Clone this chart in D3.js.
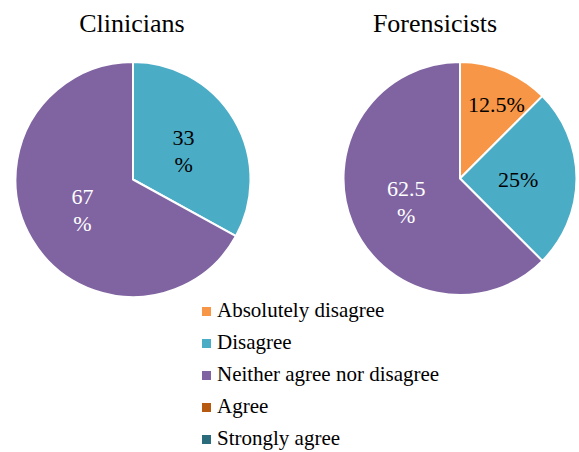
<!DOCTYPE html>
<html>
<head>
<meta charset="utf-8">
<script src="https://cdn.jsdelivr.net/npm/d3@7"></script>
<style>
  html, body { margin: 0; padding: 0; background: #fff; }
  svg { display: block; }
</style>
</head>
<body>
<svg id="chart" width="579" height="452"></svg>
<script>
// Response categories, in the order the slices run clockwise from 12 o'clock
const categories = ["Absolutely disagree", "Disagree", "Neither agree nor disagree", "Agree", "Strongly agree"];
const colors = ["#F79646", "#4BACC6", "#8064A2", "#B65A12", "#2A6C7C"];

// Percentage of respondents per category
const clinicianValues = [0, 33, 67, 0, 0];
const forensicistValues = [12.5, 25, 62.5, 0, 0];

// Which value labels break the "%" onto its own line
const clinicianWrap = [false, true, true, false, false];
const forensicistWrap = [false, false, true, false, false];

const serifFont = "Liberation Serif";

const groups = [
  { title: "Clinicians", values: clinicianValues, wrap: clinicianWrap, cx: 133, cy: 179.5, r: 117.5, titleX: 132 },
  { title: "Forensicists", values: forensicistValues, wrap: forensicistWrap, cx: 460, cy: 178.5, r: 116.5, titleX: 435 }
];

const svg = d3.select("#chart");
const color = d3.scaleOrdinal().domain(categories).range(colors);
const pie = d3.pie().sort(null).value(d => d.value);

groups.forEach(g => {
  const data = categories.map((c, i) => ({ category: c, value: g.values[i], wrap: g.wrap[i] }));
  const arcs = pie(data);
  const arc = d3.arc().innerRadius(0).outerRadius(g.r);

  svg.append("text")
    .attr("x", g.titleX)
    .attr("y", 32)
    .attr("text-anchor", "middle")
    .attr("font-family", serifFont)
    .attr("font-size", 26)
    .attr("fill", "#000")
    .text(g.title);

  const gp = svg.append("g").attr("transform", `translate(${g.cx},${g.cy})`);

  gp.selectAll("path")
    .data(arcs.filter(a => a.data.value > 0))
    .join("path")
    .attr("d", arc)
    .attr("fill", d => color(d.data.category))
    .attr("stroke", "#fff")
    .attr("stroke-width", 2)
    .attr("stroke-linejoin", "round");

  // Value labels: small slices sit further out, the rest near mid-radius
  const labels = gp.selectAll("text.val")
    .data(arcs.filter(a => a.data.value > 0))
    .join("text")
    .attr("class", "val")
    .attr("text-anchor", "middle")
    .attr("font-family", serifFont)
    .attr("font-size", 22)
    .attr("fill", d => d.data.category === "Neither agree nor disagree" ? "#fff" : "#000");

  labels.each(function(d) {
    const t = d3.select(this);
    const num = String(d.data.value);
    if (d.data.wrap) {
      t.append("tspan").attr("x", 0).attr("y", -5).text(num);
      t.append("tspan").attr("x", 0).attr("y", 22).text("%");
    } else {
      t.append("tspan").attr("x", 0).attr("y", 8).text(num + "%");
    }
    const frac = d.data.value / 100;
    const rho = frac < 0.2 ? 0.69 * g.r : 0.5 * g.r;
    let [x, y] = d3.arc().innerRadius(rho).outerRadius(rho).centroid(d);
    // keep single-line labels of right-hand slices clear of the vertical edge
    if (!d.data.wrap && d.startAngle >= 0 && d.endAngle <= Math.PI) {
      const w = this.getBBox().width;
      x = Math.max(x, w / 2 + 8);
    }
    t.attr("transform", `translate(${x},${y})`);
  });
});

// Legend
const legend = svg.append("g").attr("transform", "translate(202,317)");
const rows = legend.selectAll("g")
  .data(categories)
  .join("g")
  .attr("transform", (d, i) => `translate(0,${i * 32})`);

rows.append("rect")
  .attr("x", 0)
  .attr("y", -10)
  .attr("width", 9)
  .attr("height", 9)
  .attr("fill", d => color(d));

rows.append("text")
  .attr("x", 15)
  .attr("y", 0)
  .attr("font-family", serifFont)
  .attr("font-size", 21)
  .attr("fill", "#000")
  .text(d => d);
</script>
</body>
</html>
